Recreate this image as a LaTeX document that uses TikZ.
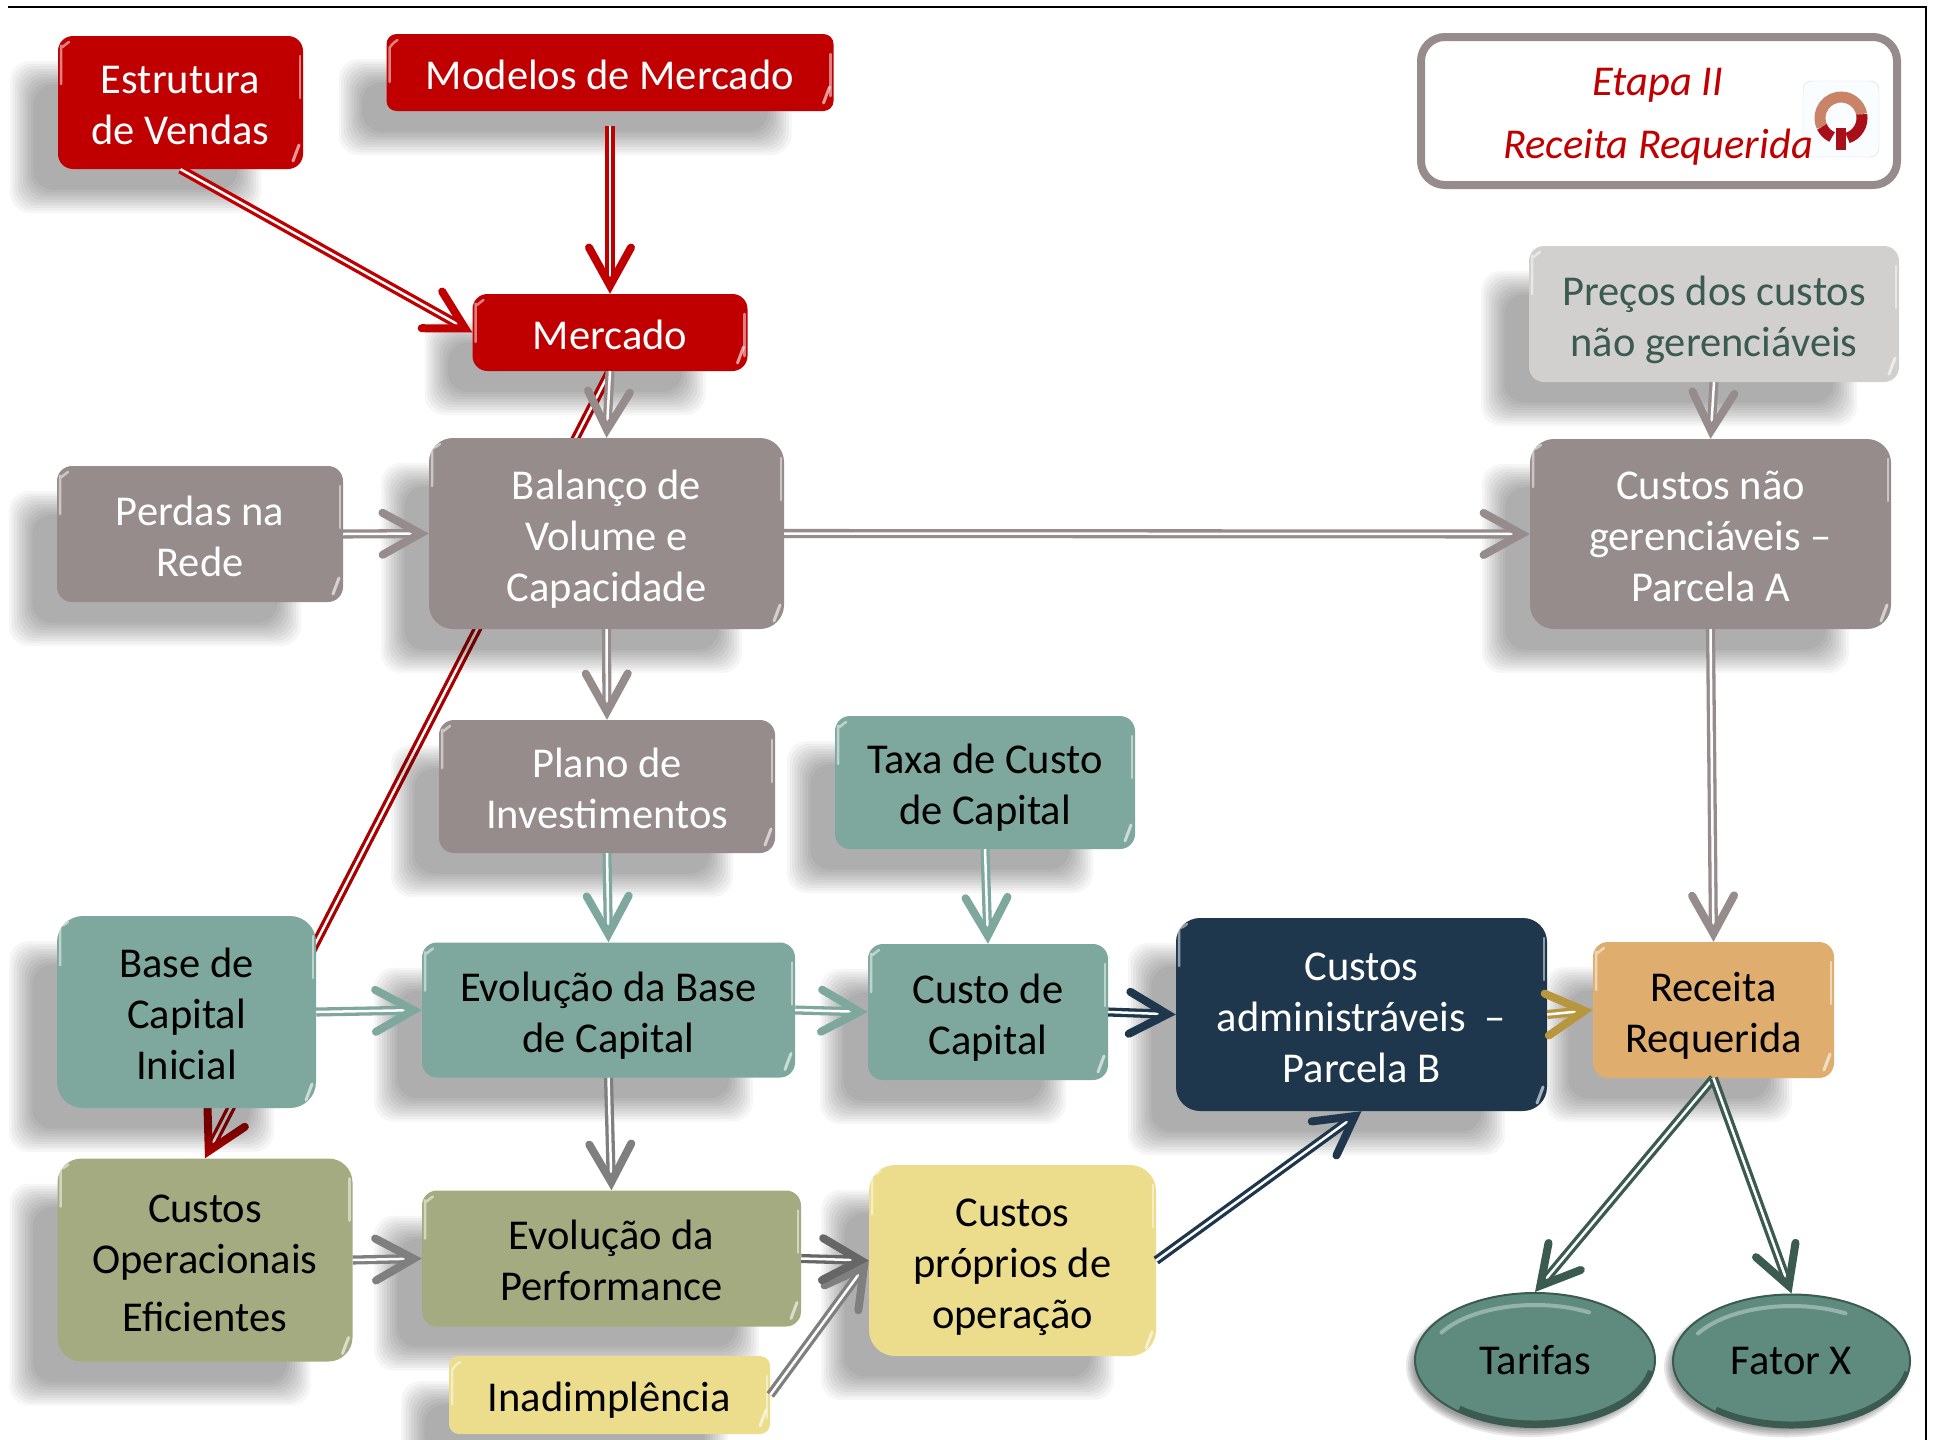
\documentclass[tikz,border=0pt]{standalone}
\usepackage{fontspec}
\setmainfont{Carlito}
\usetikzlibrary{arrows.meta,shapes.geometric}
\definecolor{cardred}{HTML}{C00000}
\definecolor{cardgrey}{HTML}{978C8C}
\definecolor{cardpale}{HTML}{D2D0CF}
\definecolor{cardteal}{HTML}{7EA89D}
\definecolor{cardolive}{HTML}{A5AB81}
\definecolor{cardnavy}{HTML}{1F374D}
\definecolor{cardorange}{HTML}{DFAE6E}
\definecolor{cardyellow}{HTML}{EBDD8C}
\definecolor{cardgreen}{HTML}{5F8B7F}
\definecolor{inkgreen}{HTML}{3B5A50}
\definecolor{linkdark}{HTML}{666666}
\definecolor{linkmid}{HTML}{7F7F7F}
\definecolor{linkgold}{HTML}{B8963E}
\definecolor{ringorange}{HTML}{C98468}
\definecolor{ringred}{HTML}{A80F18}
\tikzset{
size/.style 2 args={minimum width=#1pt,minimum height=#2pt},
bevel/.style={path picture={
\draw[white,opacity=.5,line width=2.5pt,line cap=round] ([shift={(3,48)}]path picture bounding box.north west) -- +(0,-24) .. controls +(0,-10) and +(-6,4) .. +(8,-42);
\draw[white,opacity=.5,line width=2.5pt,line cap=round] ([shift={(-3,20)}]path picture bounding box.north east) -- +(0,42);
\draw[white,opacity=.6,line width=3pt,line cap=round] ([shift={(-4,-24)}]path picture bounding box.south east) -- +(-6,16);
}},
card/.style={rectangle,rounded corners=15pt,align=center,inner sep=0pt,
font=\fontsize{42.5}{51}\selectfont,bevel},
redcard/.style={card,fill=cardred,text=white},
greycard/.style={card,fill=cardgrey,text=white},
palecard/.style={card,fill=cardpale,text=inkgreen},
tealcard/.style={card,fill=cardteal,text=black},
olivecard/.style={card,fill=cardolive,text=black},
navycard/.style={card,fill=cardnavy,text=white},
orangecard/.style={card,fill=cardorange,text=black},
yellowcard/.style={card,fill=cardyellow,text=black},
pebble/.style={ellipse,inner sep=0pt,fill=cardgreen,draw=inkgreen,line width=2pt,text=black,
font=\fontsize{42.5}{51}\selectfont,
path picture={
\draw[white,opacity=.35,line width=4pt,line cap=round] ([shift={(-150:108 and 55)}]path picture bounding box.center) arc[start angle=-150,end angle=-60,x radius=108,y radius=55];
\draw[inkgreen,line width=7pt] ([shift={(10:118 and 64)}]path picture bounding box.center) arc[start angle=10,end angle=130,x radius=118,y radius=64];
}},
link/.style={double=white,double distance=2.5pt,line width=3.3pt,
-{Straight Barb[length=38pt,width=42pt,line width=8pt,line cap=round,line join=miter]}}
}
\def\card#1#2#3#4#5#6#7{
\foreach \i in {0,...,9}{
\pgfmathsetmacro{\g}{2.6*\i}
\fill[black,opacity=.036,rounded corners=20pt] (#3-#5/2-48+\g,#4-#6/2+25+\g) rectangle (#3+#5/2-42-\g,#4+#6/2+44-\g);
}
\node[#1,size={#5}{#6}] (#2) at (#3,#4) {\rule{0pt}{48.5pt}#7\strut};
}
\def\stone#1#2#3#4#5#6{
\foreach \i in {0,...,4}{
\fill[black,opacity=.09] (#2-5,#3+6) ellipse [x radius=#4/2+4-2*\i,y radius=#5/2+4-2*\i];
}
\node[pebble,size={#4}{#5}] (#1) at (#2,#3) {\raisebox{-3pt}{#6}};
}
\begin{document}
\begin{tikzpicture}[x=1pt,y=-1pt]
\useasboundingbox (0,0) rectangle (1933,1440);
\fill[white] (0,0) rectangle (1933,1440);
\draw[black,line width=2pt] (8,7) -- (1926,7) -- (1926,1440);
\card{redcard}{mercado}{610}{332.5}{275}{77}{Mercado}
\card{olivecard,rounded corners=24pt}{custosop}{205}{1260}{295}{203}{Custos\\Operacionais\\[7pt]Eficientes}
\draw[link,cardred!88!black] (mercado.south) -- (custosop.north);
\card{redcard}{estrutura}{180.5}{102.5}{245}{133}{Estrutura\\de Vendas}
\card{redcard,rounded corners=10pt}{modelos}{610}{72.5}{447}{77}{Modelos de Mercado}
\card{greycard,rounded corners=24pt}{balanco}{606.5}{533.5}{355}{191}{Balanço de\\Volume e\\Capacidade}
\card{greycard}{perdas}{200}{534}{286}{136}{Perdas na\\Rede}
\card{greycard}{plano}{607}{786.5}{336}{133}{Plano de\\Investimentos}
\card{tealcard}{taxa}{985}{782.5}{300}{133}{Taxa de Custo\\de Capital}
\card{tealcard,rounded corners=26pt}{base}{186.5}{1012}{259}{192}{Base de\\Capital\\Inicial}
\card{tealcard}{evolbase}{608.5}{1010}{373}{135}{Evolução da Base\\de Capital}
\card{tealcard}{custo}{988}{1012}{240}{136}{Custo de\\Capital}
\card{navycard,rounded corners=24pt}{adm}{1361.5}{1014.5}{371}{193}{Custos\\administráveis\ \ –\\Parcela B}
\card{orangecard}{receita}{1713.5}{1010}{241}{136}{Receita\\Requerida}
\card{olivecard}{evolperf}{611.5}{1258.5}{379}{136}{Evolução da\\Performance}
\card{yellowcard,rounded corners=26pt}{proprios}{1012.5}{1260.5}{287}{191}{Custos\\próprios de\\operação}
\card{yellowcard,rounded corners=10pt}{inad}{609.5}{1395}{321}{78}{Inadimplência}
\card{palecard}{precos}{1714}{314}{370}{136}{Preços dos custos\\não gerenciáveis}
\card{greycard,rounded corners=24pt}{custosnao}{1710.5}{534}{361}{190}{Custos não\\gerenciáveis –\\Parcela A}
\stone{tarifas}{1535}{1360}{240}{134}{Tarifas}
\stone{fator}{1791.5}{1361}{237}{133}{Fator X}
\node[rectangle,rounded corners=24pt,draw=cardgrey,line width=8pt,fill=white,size={476}{148}] (etapabox) at (1659,111) {};
\fill[rounded corners=9pt,fill=black!4!cyan!2!white,draw=black!15] (1803,81) rectangle (1879,157);
\draw[ringorange,line width=11pt] (1841,118) ++(-10:21) arc[start angle=-10,end angle=-205,radius=21];
\draw[ringred,line width=11pt] (1841,118) ++(-10:21) arc[start angle=-10,end angle=72,radius=21];
\draw[ringred,line width=11pt] (1841,118) ++(115:21) arc[start angle=115,end angle=155,radius=21];
\fill[ringred] (1836,128) rectangle (1846,150);
\node[font=\fontsize{42.5}{51}\selectfont\itshape,text=cardred] (etapa) at (1658,85) {Etapa II};
\node[font=\fontsize{42.5}{51}\selectfont\itshape,text=cardred] (titulo) at (1658,147) {Receita Requerida};
\draw[link,cardred] (estrutura.south) -- (mercado.west);
\draw[link,cardred,shorten <=15pt] (modelos.south) -- (mercado.north);
\foreach \from/\to in {mercado.south/balanco.north,perdas.east/balanco.west,balanco.east/custosnao.west,precos.south/custosnao.north,balanco.south/plano.north,custosnao.south/receita.north}
\draw[link,cardgrey] (\from) -- (\to);
\foreach \from/\to in {plano.south/evolbase.north,taxa.south/custo.north,base.east/evolbase.west,evolbase.east/custo.west}
\draw[link,cardteal] (\from) -- (\to);
\foreach \from/\to in {evolbase.south/evolperf.north,custosop.east/evolperf.west,inad.east/proprios.west}
\draw[link,linkmid] (\from) -- (\to);
\draw[link,linkdark] (evolperf.east) -- (proprios.west);
\foreach \from/\to in {custo.east/adm.west,proprios.east/adm.south}
\draw[link,cardnavy] (\from) -- (\to);
\draw[link,linkgold] (adm.east) -- (receita.west);
\foreach \to in {tarifas.north,fator.north}
\draw[link,inkgreen] (receita.south) -- (\to);
\end{tikzpicture}
\end{document}
